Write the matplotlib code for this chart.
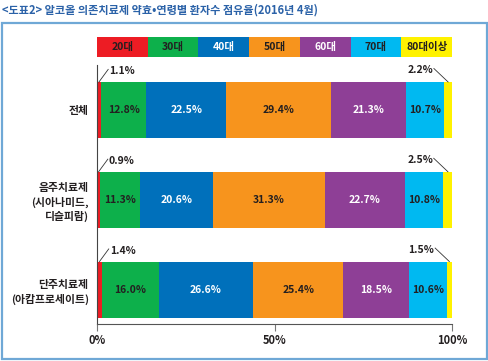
import matplotlib
matplotlib.use("Agg")
import matplotlib.pyplot as plt
from matplotlib.patches import Rectangle
import numpy as np

plt.rcParams['font.family'] = ['Noto Sans CJK KR', 'DejaVu Sans']

title = "<도표2> 알코올 의존치료제 약효•연령별 환자수 점유율(2016년 4월)"
age_groups = ["20대", "30대", "40대", "50대", "60대", "70대", "80대이상"]
rows = ["전체", "음주치료제\n(시아나미드,\n디슬피람)", "단주치료제\n(아캄프로세이트)"]
v_total = [1.1, 12.8, 22.5, 29.4, 21.3, 10.7, 2.2]
v_drink = [0.9, 11.3, 20.6, 31.3, 22.7, 10.8, 2.5]
v_abst = [1.4, 16.0, 26.6, 25.4, 18.5, 10.6, 1.5]
values = [v_total, v_drink, v_abst]
xticks = [0, 50, 100]
xtick_labels = ["0%", "50%", "100%"]

colors = ["#ed1c24", "#0db04b", "#0070bb", "#f7941d", "#8e3f96", "#00b9f1", "#fff200"]
text_colors = ["#231f20", "#231f20", "white", "#231f20", "white", "#231f20", "#231f20"]

W, H = 488, 361
fig = plt.figure(figsize=(W / 100, H / 100), dpi=100)

def fx(px):
    return px / W

def fy(py):
    return 1 - py / H

# frame
fig.patches.append(Rectangle((fx(1.5), fy(358.5)), fx(485), (358.5 - 22.5) / H,
                             transform=fig.transFigure, fill=False,
                             edgecolor="#6fa8d6", linewidth=1.6))
fig.text(fx(2), fy(10), title, fontsize=8.0, fontweight='bold', color="#2b62a8",
         va='center', ha='left')

# main axes
ax = fig.add_axes([fx(97), fy(324), fx(452 - 97), (324 - 65) / H])
pos = np.arange(len(rows))
bh = 0.624
for i, vals in enumerate(values):
    left = 0.0
    for j, v in enumerate(vals):
        ax.barh(pos[i], v, left=left, height=bh, color=colors[j], edgecolor='none')
        if 0 < j < len(vals) - 1:
            ax.text(left + v / 2, pos[i], f"{v:.1f}%", ha='center', va='center',
                    fontsize=7.5, fontweight='bold', color=text_colors[j])
        left += v
    # leader labels for small segments
    top = pos[i] - bh / 2
    v0 = vals[0]
    ax.plot([v0 / 2, v0 / 2 + 2.6], [top, top - 0.14], color="#333333", lw=0.6)
    ax.text(v0 / 2 + 2.9, top - 0.12, f"{v0:.1f}%", ha='left', va='center',
            fontsize=7.5, fontweight='bold', color="#231f20")
    vl = vals[-1]
    xr = sum(vals) - vl / 2
    ax.plot([xr, xr - 4.0], [top, top - 0.15], color="#333333", lw=0.6)
    ax.text(xr - 4.2, top - 0.13, f"{vl:.1f}%", ha='right', va='center',
            fontsize=7.5, fontweight='bold', color="#231f20")

ax.set_xlim(0, 100)
ax.set_ylim(2.384, -0.501)
ax.set_yticks(pos)
ax.set_yticklabels(rows, fontsize=7.8, fontweight='bold', color="#231f20",
                   linespacing=1.4)
ax.tick_params(axis='y', length=0, pad=6)
ax.set_xticks(xticks)
ax.set_xticklabels(xtick_labels, fontsize=8, fontweight='bold', color="#231f20")
ax.tick_params(axis='x', length=5, width=0.8, color="#777777", pad=2)
for s in ['top', 'right']:
    ax.spines[s].set_visible(False)
ax.spines['left'].set_color("#444444")
ax.spines['left'].set_linewidth(0.8)
ax.spines['bottom'].set_color("#555555")
ax.spines['bottom'].set_linewidth(0.8)
for lab in ax.get_yticklabels():
    lab.set_multialignment('right')

# legend axes
lax = fig.add_axes([fx(97), fy(57), fx(452 - 97), (57 - 37) / H])
n = len(age_groups)
for j, g in enumerate(age_groups):
    lax.add_patch(Rectangle((j, 0), 1, 1, color=colors[j], lw=0))
    lax.text(j + 0.5, 0.5, g, ha='center', va='center', fontsize=7.5,
             fontweight='bold', color=text_colors[j])
lax.set_xlim(0, n)
lax.set_ylim(0, 1)
lax.axis('off')

fig.savefig("out.png", dpi=100, facecolor='white')
